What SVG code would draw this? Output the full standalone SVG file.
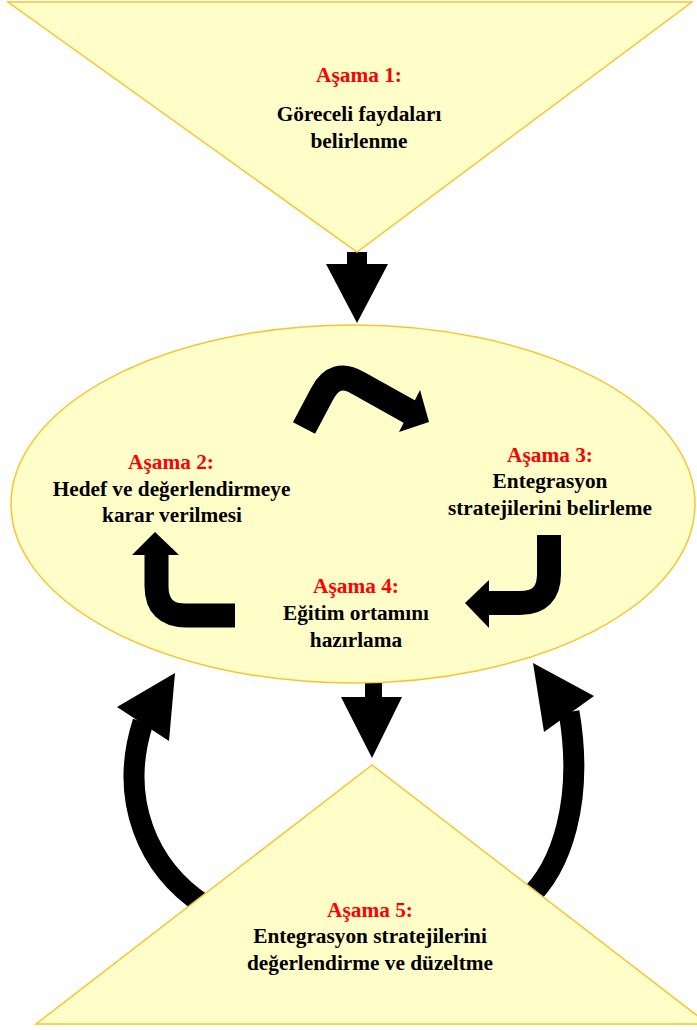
<svg xmlns="http://www.w3.org/2000/svg" width="697" height="1030" viewBox="0 0 697 1030">
<style>
.shape{fill:#FFFDC8;stroke:#F7C52F;stroke-width:1.5}
.t{font-family:"Liberation Serif","Times New Roman",serif;font-weight:bold;font-size:21.3px;text-anchor:middle;fill:#000}
.r{fill:#FF0000}
.blk{fill:#000;stroke:none}
.line{fill:none;stroke:#000}
</style>
<rect width="697" height="1030" fill="#fff"/>
<g id="connectors">
  <polygon class="blk" points="347,252 367,252 367,264 388,264 357,323 326,264 347,264"/>
  <polygon class="blk" points="365,682 382,682 382,697 402,697 372,758 341,697 365,697"/>
  <path class="line" stroke-width="21" d="M204,905 C148,868 118,800 143,722"/>
  <polygon class="blk" points="175,673 117,707 169,741"/>
  <path class="line" stroke-width="21" d="M526,900 C562,868 584,800 569,712"/>
  <polygon class="blk" points="533,663 594,696 544,732"/>
</g>
<g id="node1">
  <polygon class="shape" points="8,2 692,2 357,252"/>
  <text class="t r" x="359" y="82">Aşama 1:</text>
  <text class="t" x="359" y="121">Göreceli faydaları</text>
  <text class="t" x="359" y="148">belirlenme</text>
</g>
<g id="cycle">
  <ellipse class="shape" cx="353" cy="504" rx="342" ry="179"/>
  <g id="cycle-arrows">
    <path class="line" stroke-width="25" d="M304,428 L322,394 Q335,369 358,383 L410,412"/>
    <polygon class="blk" points="429,422 420,390 399,432"/>
    <path class="line" stroke-width="24" d="M235,615.5 L186,615.5 Q156.5,615.5 156.5,586 L156.5,554"/>
    <polygon class="blk" points="155,532 132,555 179,555"/>
    <path class="line" stroke-width="24" d="M549,535 L549,574 Q549,603 520,603 L488,603"/>
    <polygon class="blk" points="465,603 489,580 489,628"/>
  </g>
</g>
<g id="node2">
  <text class="t r" x="171" y="469">Aşama 2:</text>
  <text class="t" x="171.5" y="496">Hedef ve değerlendirmeye</text>
  <text class="t" x="172" y="522">karar verilmesi</text>
</g>
<g id="node3">
  <text class="t r" x="550" y="462">Aşama 3:</text>
  <text class="t" x="550" y="488">Entegrasyon</text>
  <text class="t" x="550" y="515">stratejilerini belirleme</text>
</g>
<g id="node4">
  <text class="t r" x="356" y="593">Aşama 4:</text>
  <text class="t" x="356" y="620">Eğitim ortamını</text>
  <text class="t" x="356" y="647">hazırlama</text>
</g>
<g id="node5">
  <polygon class="shape" points="372,765 36,1024 708,1024"/>
  <text class="t r" x="370" y="917">Aşama 5:</text>
  <text class="t" x="370" y="943">Entegrasyon stratejilerini</text>
  <text class="t" x="370" y="970">değerlendirme ve düzeltme</text>
</g>
</svg>
